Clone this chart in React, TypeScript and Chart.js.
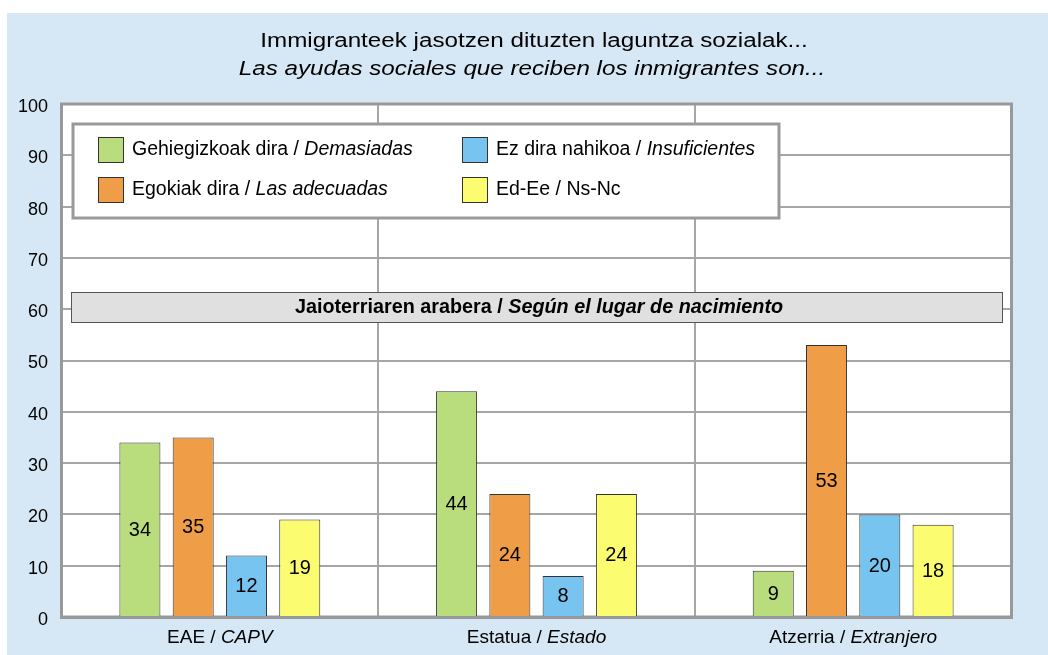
import React, { useEffect, useRef } from "react";
import { Chart, registerables } from "chart.js";

Chart.register(...registerables);

const categoriesEu = ["EAE", "Estatua", "Atzerria"];
const categoriesEs = ["CAPV", "Estado", "Extranjero"];

const seriesEu = ["Gehiegizkoak dira", "Egokiak dira", "Ez dira nahikoa", "Ed-Ee"];
const seriesEs = ["Demasiadas", "Las adecuadas", "Insuficientes", "Ns-Nc"];
const seriesEsItalic = [true, true, true, false];

const demasiadas = [34, 44, 9];
const adecuadas = [35, 24, 53];
const insuficientes = [12, 8, 20];
const nsnc = [19, 24, 18];

const seriesColors = ["#b9dc7d", "#f09d48", "#78c4f0", "#fcfc70"];

const titleLine1 = "Immigranteek jasotzen dituzten laguntza sozialak...";
const titleLine2 = "Las ayudas sociales que reciben los inmigrantes son...";
const bannerEu = "Jaioterriaren arabera / ";
const bannerEs = "Según el lugar de nacimiento";

const yMin = 0;
const yMax = 100;
const yStep = 10;

const FONT = "'Liberation Sans', Arial, sans-serif";

type Part = { t: string; italic?: boolean; bold?: boolean };

function fontOf(p: Part, size: number) {
  return `${p.italic ? "italic " : ""}${p.bold ? "bold " : ""}${size}px ${FONT}`;
}

function drawParts(
  ctx: CanvasRenderingContext2D,
  parts: Part[],
  x: number,
  y: number,
  size: number,
  align: "left" | "center" | "right",
  scaleX = 1
) {
  ctx.save();
  ctx.textBaseline = "middle";
  ctx.textAlign = "left";
  let total = 0;
  for (const p of parts) {
    ctx.font = fontOf(p, size);
    total += ctx.measureText(p.t).width;
  }
  ctx.translate(x, y);
  ctx.scale(scaleX, 1);
  let cx = align === "center" ? -total / 2 : align === "right" ? -total : 0;
  for (const p of parts) {
    ctx.font = fontOf(p, size);
    ctx.fillText(p.t, cx, 0);
    cx += ctx.measureText(p.t).width;
  }
  ctx.restore();
}

const decorPlugin = {
  id: "decor",
  beforeDraw(chart: any) {
    const ctx = chart.ctx as CanvasRenderingContext2D;
    const { left, right, top, bottom } = chart.chartArea;
    ctx.save();
    ctx.fillStyle = "#ffffff";
    ctx.fillRect(0, 0, chart.width, chart.height);
    ctx.fillStyle = "#d6e8f5";
    ctx.fillRect(7, 13, chart.width - 7, chart.height - 13);
    ctx.fillStyle = "#ffffff";
    ctx.fillRect(left, top, right - left, bottom - top);
    ctx.restore();
  },
  beforeDatasetsDraw(chart: any) {
    const ctx = chart.ctx as CanvasRenderingContext2D;
    const { left, right, top, bottom } = chart.chartArea;
    ctx.save();
    // plot frame
    ctx.strokeStyle = "#999999";
    ctx.lineWidth = 3;
    ctx.strokeRect(left, top, right - left, bottom - top);

    // legend box
    ctx.fillStyle = "#ffffff";
    ctx.fillRect(73, 124, 706, 94);
    ctx.strokeStyle = "#9a9a9a";
    ctx.lineWidth = 3;
    ctx.strokeRect(73, 124, 706, 94);
    const colX = [98, 462];
    const rowY = [137, 177];
    for (let i = 0; i < 4; i++) {
      const col = i < 2 ? 0 : 1;
      const row = i % 2;
      const sx = colX[col];
      const sy = rowY[row];
      ctx.fillStyle = seriesColors[i];
      ctx.fillRect(sx, sy, 26, 26);
      ctx.strokeStyle = "#333333";
      ctx.lineWidth = 1;
      ctx.strokeRect(sx + 0.5, sy + 0.5, 25, 25);
      ctx.fillStyle = "#000000";
      drawParts(
        ctx,
        [
          { t: seriesEu[i] + " / " },
          { t: seriesEs[i], italic: seriesEsItalic[i] },
        ],
        sx + 34,
        sy + 13,
        19.5,
        "left"
      );
    }

    // banner
    ctx.fillStyle = "#e0e0e0";
    ctx.fillRect(71, 292, 932, 31);
    ctx.strokeStyle = "#555555";
    ctx.lineWidth = 1;
    ctx.strokeRect(71.5, 292.5, 931, 30);
    ctx.fillStyle = "#000000";
    drawParts(
      ctx,
      [
        { t: bannerEu, bold: true },
        { t: bannerEs, bold: true, italic: true },
      ],
      539,
      308,
      19.8,
      "center"
    );
    ctx.restore();
  },
  afterDatasetsDraw(chart: any) {
    const ctx = chart.ctx as CanvasRenderingContext2D;
    ctx.save();
    ctx.fillStyle = "#000000";
    ctx.font = `20px ${FONT}`;
    ctx.textAlign = "center";
    ctx.textBaseline = "middle";
    chart.data.datasets.forEach((ds: any, di: number) => {
      const meta = chart.getDatasetMeta(di);
      meta.data.forEach((el: any, i: number) => {
        const v = ds.data[i];
        ctx.fillText(String(v), el.x, (el.y + el.base) / 2 + 1);
      });
    });
    ctx.restore();
  },
  afterDraw(chart: any) {
    const ctx = chart.ctx as CanvasRenderingContext2D;
    ctx.save();
    ctx.fillStyle = "#000000";
    drawParts(ctx, [{ t: titleLine1 }], 534, 41, 20, "center", 1.21);
    drawParts(ctx, [{ t: titleLine2, italic: true }], 532, 69, 20, "center", 1.21);
    const xs = chart.scales.x;
    for (let i = 0; i < categoriesEu.length; i++) {
      const px = xs.getPixelForValue(i);
      drawParts(
        ctx,
        [{ t: categoriesEu[i] + " / " }, { t: categoriesEs[i], italic: true }],
        px,
        638,
        19,
        "center"
      );
    }
    const ys = chart.scales.y;
    ys.ticks.forEach((t: any) => {
      const py = ys.getPixelForValue(t.value);
      drawParts(ctx, [{ t: String(t.value) }], 48, py + 3, 18, "right");
    });
    ctx.restore();
  },
};

export default function App() {
  const ref = useRef<HTMLCanvasElement | null>(null);
  useEffect(() => {
    if (!ref.current) return;
    const datasets = [demasiadas, adecuadas, insuficientes, nsnc].map((d, i) => ({
      label: seriesEu[i] + " / " + seriesEs[i],
      data: d,
      backgroundColor: seriesColors[i],
      borderColor: "#333333",
      borderWidth: 1,
      categoryPercentage: 0.673,
      barPercentage: 0.77,
    }));
    const chart = new Chart(ref.current, {
      type: "bar",
      data: {
        labels: categoriesEu.map((c, i) => c + " / " + categoriesEs[i]),
        datasets,
      },
      options: {
        responsive: false,
        animation: false,
        layout: { padding: { top: 104, right: 36.5, left: 0, bottom: 8 } },
        plugins: {
          legend: { display: false },
          title: { display: false },
          tooltip: { enabled: false },
        },
        scales: {
          x: {
            ticks: { display: false },
            grid: { color: "#a6a6a6", lineWidth: 2, offset: true, drawTicks: false },
            border: { display: true, color: "#999999", width: 3 },
            afterFit: (s: any) => {
              s.height = 30;
            },
          },
          y: {
            min: yMin,
            max: yMax,
            ticks: {
              stepSize: yStep,
              display: false,
            },
            grid: { color: "#a6a6a6", lineWidth: 2, drawTicks: false },
            border: { display: true, color: "#999999", width: 3 },
            afterFit: (s: any) => {
              s.width = 61.5;
            },
          },
        },
      } as any,
      plugins: [decorPlugin],
    });
    return () => chart.destroy();
  }, []);
  return (
    <div style={{ position: "fixed", left: 0, top: 0, width: 1048, height: 655 }}>
      <canvas ref={ref} width={1048} height={655} style={{ display: "block" }} />
    </div>
  );
}
